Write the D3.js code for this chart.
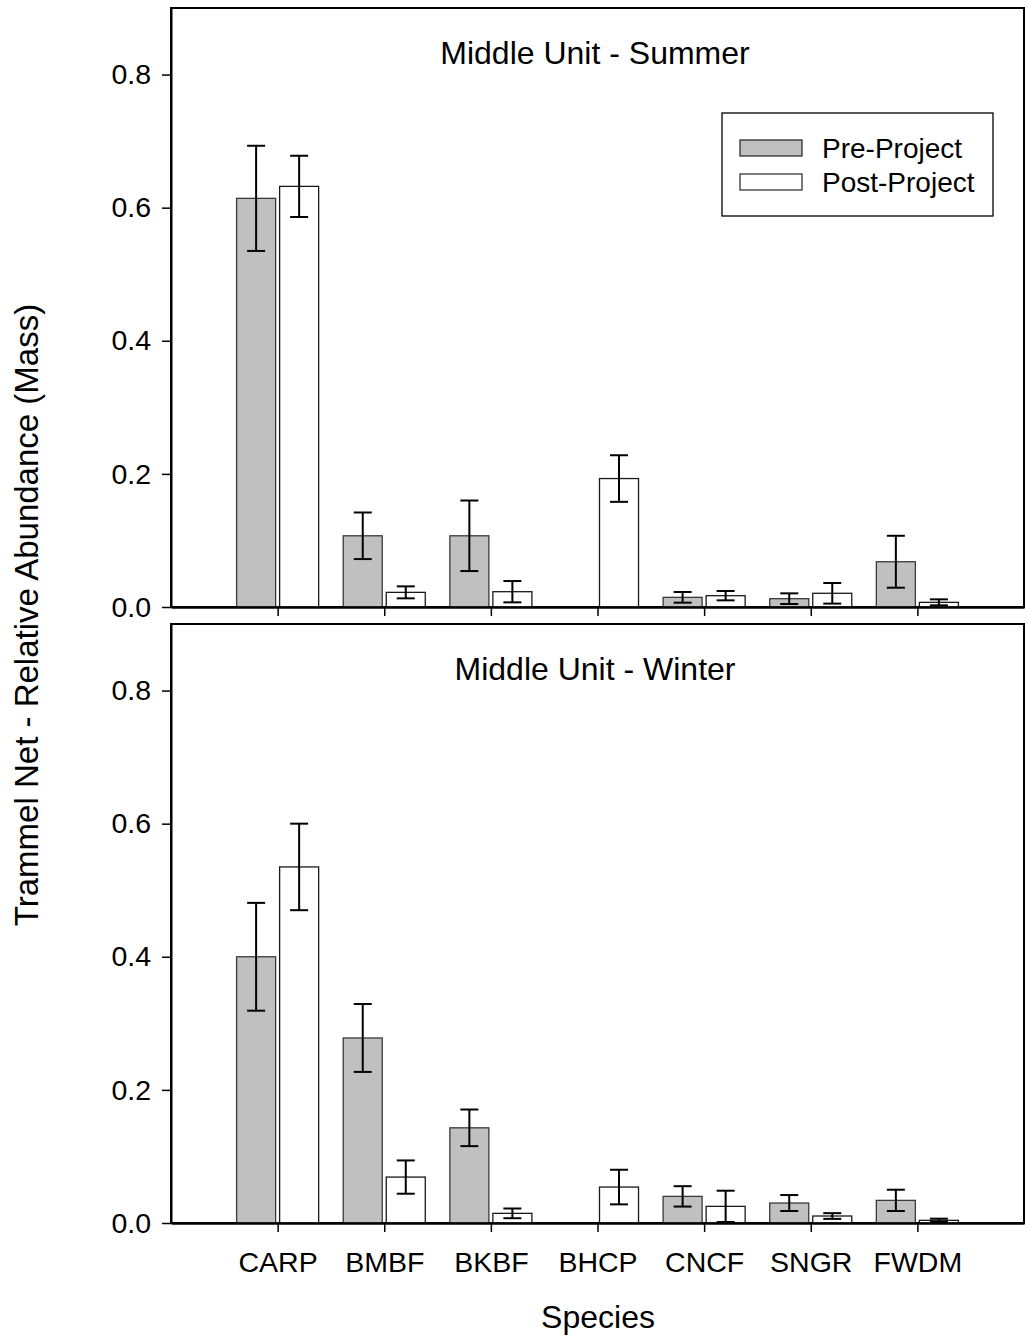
<!doctype html>
<html lang="en">
<head>
<meta charset="utf-8" />
<title>Trammel Net - Relative Abundance (Mass)</title>
<script src="https://d3js.org/d3.v7.min.js"></script>
<style>
  body { margin: 0; background: #fff; }
  svg { display: block; font-family: "Liberation Sans", Arial, sans-serif; }
</style>
</head>
<body>
<div id="chart"></div>
<script>
// species on the x axis
var species = ["CARP", "BMBF", "BKBF", "BHCP", "CNCF", "SNGR", "FWDM"];
var yTicks = [0, 0.2, 0.4, 0.6, 0.8];

// summer (null = no bar)
var summerPre     = [0.614, 0.107, 0.107, null, 0.0145, 0.0125, 0.068];
var summerPreErr  = [0.079, 0.035, 0.053, null, 0.008, 0.008, 0.039];
var summerPost    = [0.632, 0.022, 0.023, 0.193, 0.017, 0.0206, 0.007];
var summerPostErr = [0.046, 0.009, 0.016, 0.035, 0.007, 0.0155, 0.0045];

// winter
var winterPre     = [0.400, 0.278, 0.143, null, 0.040, 0.030, 0.034];
var winterPreErr  = [0.081, 0.051, 0.0275, null, 0.0153, 0.012, 0.016];
var winterPost    = [0.535, 0.069, 0.0145, 0.054, 0.025, 0.0105, 0.004];
var winterPostErr = [0.065, 0.025, 0.0073, 0.026, 0.0235, 0.0043, 0.0025];

var panels = [
    { title: "Middle Unit - Summer", pre: summerPre, preErr: summerPreErr, post: summerPost, postErr: summerPostErr, top: 8, legend: true },
    { title: "Middle Unit - Winter", pre: winterPre, preErr: winterPreErr, post: winterPost, postErr: winterPostErr, top: 624, legend: false }
];

var width = 1027, height = 1341,
    left = 171, right = 1024,
    panelH = 599;

var svg = d3.select("#chart").append("svg")
    .attr("width", width)
    .attr("height", height);

var x = d3.scalePoint().domain(species).range([left, right]).padding(1);
var barW = x.step() * 0.366,
    gap = 2,
    capW = 9;

panels.forEach(function (p) {
    var y = d3.scaleLinear().domain([0, 0.9]).range([p.top + panelH, p.top]);
    var g = svg.append("g");

    var rows = species.map(function (s, i) {
        return { s: s, pre: p.pre[i], preErr: p.preErr[i], post: p.post[i], postErr: p.postErr[i] };
    });

    // frame
    g.append("rect")
        .attr("x", left).attr("y", p.top)
        .attr("width", right - left).attr("height", panelH)
        .attr("fill", "none").attr("stroke", "#000").attr("stroke-width", 2);

    /* pre-project bars */
    g.selectAll(".pre").data(rows.filter(d => d.pre != null))
        .enter().append("rect")
        .attr("class", "pre")
        .attr("x", d => x(d.s) - gap - barW)
        .attr("y", d => y(d.pre))
        .attr("width", barW)
        .attr("height", d => y(0) - y(d.pre))
        .attr("fill", "#c0c0c0")
        .attr("stroke", "#3a3a3a").attr("stroke-width", 1.3);

    /* post-project bars */
    g.selectAll(".post").data(rows.filter(d => d.post != null))
        .enter().append("rect")
        .attr("class", "post")
        .attr("x", d => x(d.s) + gap)
        .attr("y", d => y(d.post))
        .attr("width", barW)
        .attr("height", d => y(0) - y(d.post))
        .attr("fill", "#fff")
        .attr("stroke", "#1a1a1a").attr("stroke-width", 1.3);

    // error bars
    var errs = [];
    rows.forEach(function (d) {
        if (d.pre != null) errs.push({ cx: x(d.s) - gap - barW / 2, v: d.pre, e: d.preErr });
        if (d.post != null) errs.push({ cx: x(d.s) + gap + barW / 2, v: d.post, e: d.postErr });
    });
    var eb = g.selectAll(".err").data(errs).enter().append("g")
        .attr("class", "err")
        .attr("stroke", "#000").attr("stroke-width", 2);
    eb.append("line")
        .attr("x1", d => d.cx).attr("x2", d => d.cx)
        .attr("y1", d => y(d.v + d.e)).attr("y2", d => y(Math.max(0, d.v - d.e)));
    eb.append("line")
        .attr("x1", d => d.cx - capW).attr("x2", d => d.cx + capW)
        .attr("y1", d => y(d.v + d.e)).attr("y2", d => y(d.v + d.e));
    eb.append("line")
        .attr("x1", d => d.cx - capW).attr("x2", d => d.cx + capW)
        .attr("y1", d => y(Math.max(0, d.v - d.e))).attr("y2", d => y(Math.max(0, d.v - d.e)));

    // y axis
    var yAxis = d3.axisLeft(y).tickValues(yTicks).tickFormat(d3.format(".1f"))
        .tickSize(9).tickPadding(11).tickSizeOuter(0);
    var ya = g.append("g").attr("transform", `translate(${left},0)`).call(yAxis);
    ya.select(".domain").attr("stroke-width", 2);
    ya.selectAll(".tick line").attr("stroke-width", 1.5);
    ya.selectAll("text").attr("font-size", 28.5).attr("font-family", "Liberation Sans, Arial, sans-serif").attr("fill", "#000");

    // x axis
    var xAxis = d3.axisBottom(x).tickSize(9).tickSizeOuter(0)
        .tickFormat(p.top > 100 ? (d => d) : "");
    var xa = g.append("g").attr("transform", `translate(0,${y(0)})`).call(xAxis);
    xa.select(".domain").attr("stroke-width", 2.5);
    xa.selectAll(".tick line").attr("stroke-width", 1.5);
    xa.selectAll("text").attr("font-size", 28.5).attr("dy", null).attr("y", 49)
        .attr("font-family", "Liberation Sans, Arial, sans-serif").attr("fill", "#000");

    // panel title
    g.append("text")
        .attr("x", 595).attr("y", p.top + 56)
        .attr("text-anchor", "middle")
        .attr("font-size", 32)
        .text(p.title);

    if (p.legend) {
        var lg = g.append("g");
        lg.append("rect")
            .attr("x", 722).attr("y", 113).attr("width", 271).attr("height", 103)
            .attr("fill", "#fff").attr("stroke", "#000").attr("stroke-width", 1.3);
        var items = [{ label: "Pre-Project", fill: "#c0c0c0", cy: 148 }, { label: "Post-Project", fill: "#fff", cy: 182 }];
        items.forEach(function (it) {
            lg.append("rect")
                .attr("x", 740).attr("y", it.cy - 8).attr("width", 62).attr("height", 16)
                .attr("fill", it.fill).attr("stroke", "#222").attr("stroke-width", 1.2);
            lg.append("text")
                .attr("x", 822).attr("y", it.cy + 9.5)
                .attr("font-size", 28)
                .text(it.label);
        });
    }
});

// axis titles
svg.append("text")
    .attr("transform", "translate(38,615) rotate(-90)")
    .attr("text-anchor", "middle")
    .attr("font-size", 33)
    .text("Trammel Net - Relative Abundance (Mass)");

svg.append("text")
    .attr("x", 598).attr("y", 1328)
    .attr("text-anchor", "middle")
    .attr("font-size", 32)
    .text("Species");
</script>
</body>
</html>
